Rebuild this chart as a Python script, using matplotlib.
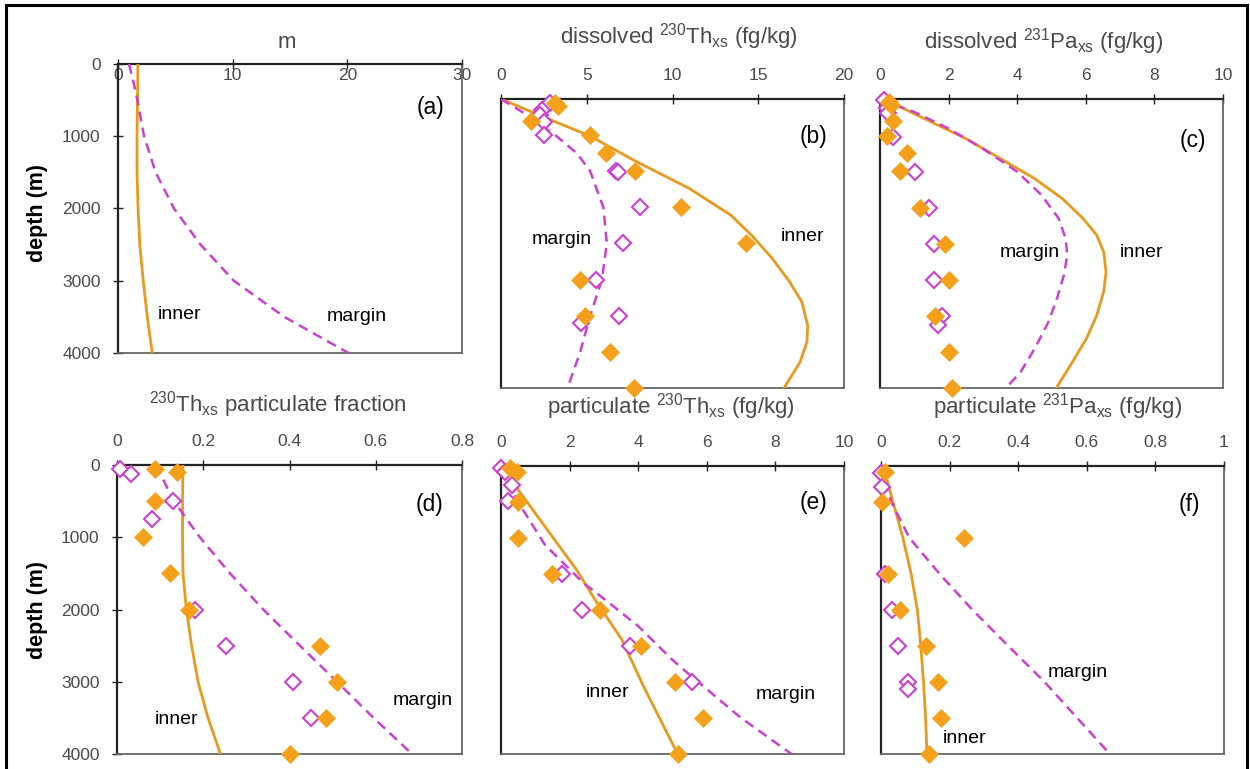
import matplotlib
matplotlib.use('Agg')
import matplotlib.pyplot as plt
from matplotlib.patches import Rectangle
from matplotlib.ticker import FuncFormatter

plt.rcParams['font.family'] = ['Liberation Sans', 'DejaVu Sans']
plt.rcParams['mathtext.fontset'] = 'custom'
plt.rcParams['mathtext.rm'] = 'Liberation Sans'
plt.rcParams['mathtext.it'] = 'Liberation Sans:italic'
plt.rcParams['mathtext.bf'] = 'Liberation Sans:bold'

ORANGE = '#F5A01A'
ORANGE_LINE = '#E99A1E'
MAGENTA = '#CC40D0'
GREY = '#4a4a4a'

# ---- (a) m ----
a_inner_z = [0, 500, 1000, 1500, 2000, 2500, 3000, 3500, 4000]
a_inner = [1.74, 1.7, 1.66, 1.66, 1.75, 1.9, 2.2, 2.55, 2.99]
a_margin_z = [0, 250, 500, 1000, 1500, 2000, 2500, 3000, 3500, 4000]
a_margin = [0.96, 1.35, 1.69, 2.27, 3.28, 4.88, 7.2, 10.1, 14.5, 20.1]

# ---- (b) dissolved 230Th ----
b_inner_z = [500, 750, 1013, 1345, 1738, 1923, 2107, 2385, 2708, 3031, 3308, 3632, 3863, 4140, 4500]
b_inner = [0, 2.5, 5.2, 7.72, 10.98, 12.19, 13.4, 14.61, 15.82, 16.83, 17.54, 17.88, 17.84, 17.44, 16.5]
b_margin_z = [500, 680, 1000, 1250, 1500, 2000, 2500, 3000, 3500, 4000, 4500]
b_margin = [0, 1.24, 3.16, 4.42, 5.2, 5.97, 6.17, 5.88, 5.2, 4.62, 3.88]
b_obs_in_z = [550, 600, 800, 1000, 1250, 1500, 2000, 2500, 3000, 3500, 4000, 4500]
b_obs_in = [3.15, 3.3, 1.75, 5.2, 6.13, 7.8, 10.5, 14.3, 4.6, 4.9, 6.36, 7.76]
b_obs_mar_z = [550, 650, 720, 820, 1000, 1500, 1510, 2000, 2500, 3000, 3500, 3600]
b_obs_mar = [2.85, 2.4, 2.3, 2.5, 2.5, 6.7, 6.85, 8.1, 7.1, 5.55, 6.9, 4.66]

# ---- (c) dissolved 231Pa ----
c_inner_z = [500, 583, 814, 1045, 1322, 1599, 1876, 2154, 2385, 2616, 2893, 3170, 3493, 3816, 4140, 4500]
c_inner = [0, 0.47, 1.48, 2.49, 3.5, 4.5, 5.31, 5.92, 6.32, 6.52, 6.59, 6.52, 6.32, 6.02, 5.61, 5.14]
c_margin_z = [500, 676, 906, 1184, 1507, 1830, 2154, 2431, 2662, 2939, 3262, 3586, 3955, 4278, 4500]
c_margin = [0, 0.98, 1.99, 2.99, 4.0, 4.71, 5.21, 5.41, 5.46, 5.36, 5.16, 4.91, 4.51, 4.1, 3.67]
c_obs_in_z = [540, 580, 805, 1008, 1253, 1498, 2006, 2509, 2999, 3502, 4001, 4500]
c_obs_in = [0.27, 0.32, 0.37, 0.19, 0.78, 0.57, 1.18, 1.89, 2.0, 1.6, 2.0, 2.1]
c_obs_mar_z = [514, 620, 700, 1022, 1516, 2015, 2509, 2999, 3502, 3622]
c_obs_mar = [0.12, 0.2, 0.22, 0.37, 1.03, 1.43, 1.56, 1.56, 1.8, 1.68]

# ---- (d) 230Th particulate fraction ----
d_inner_z = [0, 500, 1000, 1500, 2000, 2500, 3000, 3500, 4000]
d_inner = [0.153, 0.152, 0.152, 0.153, 0.161, 0.173, 0.188, 0.211, 0.24]
d_margin_z = [0, 485, 1000, 1500, 2000, 2500, 3000, 3500, 4000]
d_margin = [0.091, 0.13, 0.192, 0.262, 0.339, 0.424, 0.51, 0.595, 0.684]
d_obs_in_z = [50, 100, 500, 1000, 1500, 2000, 2500, 3000, 3500, 4000]
d_obs_in = [0.0875, 0.138, 0.0875, 0.06, 0.124, 0.167, 0.471, 0.51, 0.484, 0.4]
d_obs_mar_z = [55, 125, 500, 750, 2000, 2500, 3000, 3500]
d_obs_mar = [0.006, 0.033, 0.13, 0.081, 0.18, 0.252, 0.407, 0.45]

# ---- (e) particulate 230Th ----
e_inner_z = [0, 100, 330, 840, 1440, 1855, 2410, 3055, 4000]
e_inner = [0.05, 0.26, 0.5, 1.28, 2.2, 2.74, 3.52, 4.15, 5.15]
e_margin_z = [0, 250, 540, 1094, 1624, 1855, 2224, 2685, 2900, 3500, 4000]
e_margin = [0, 0.2, 0.55, 1.28, 2.4, 3.03, 4.0, 4.98, 5.5, 7.0, 8.47]
e_obs_in_z = [30, 90, 500, 1000, 1500, 2000, 2500, 3000, 3500, 4000]
e_obs_in = [0.26, 0.46, 0.49, 0.49, 1.48, 2.89, 4.07, 5.07, 5.9, 5.15]
e_obs_mar_z = [30, 90, 270, 480, 1500, 2000, 2500, 3000]
e_obs_mar = [0.0, 0.12, 0.31, 0.21, 1.77, 2.37, 3.76, 5.58]

# ---- (f) particulate 231Pa ----
f_inner_z = [0, 100, 500, 1000, 1500, 2000, 2500, 3000, 3500, 4000]
f_inner = [0.0, 0.012, 0.035, 0.064, 0.088, 0.106, 0.116, 0.124, 0.13, 0.134]
f_margin_z = [0, 250, 500, 1000, 1500, 2000, 2500, 3000, 3500, 4000]
f_margin = [0.0, 0.012, 0.03, 0.083, 0.171, 0.267, 0.371, 0.477, 0.572, 0.667]
f_obs_in_z = [80, 500, 1000, 1500, 2000, 2500, 3000, 3500, 4000]
f_obs_in = [0.012, 0.003, 0.243, 0.021, 0.055, 0.13, 0.165, 0.175, 0.14]
f_obs_mar_z = [100, 290, 1500, 2000, 2500, 3000, 3100]
f_obs_mar = [0.0, 0.002, 0.012, 0.031, 0.049, 0.08, 0.08]

W, H = 1250, 769
fig = plt.figure(figsize=(W / 100, H / 100), dpi=100)


def px_axes(left, top, right, bottom):
    return fig.add_axes([left / W, 1 - bottom / H, (right - left) / W, (bottom - top) / H])


def style(ax, xmax, xticks, ylim, ylabels, pad):
    ax.set_xlim(0, xmax)
    ax.set_ylim(*ylim)
    ax.set_xticks(xticks)
    ax.xaxis.set_major_formatter(FuncFormatter(lambda v, p: '%g' % v))
    ax.tick_params(axis='x', top=True, labeltop=True, bottom=False, labelbottom=False,
                   direction='inout', length=7, width=1, color='#222', pad=pad,
                   labelsize=12.5, labelcolor=GREY)
    if ylabels:
        ax.set_yticks([0, 1000, 2000, 3000, 4000])
        ax.tick_params(axis='y', direction='inout', length=7, width=1, color='#222',
                       labelsize=12.5, labelcolor=GREY, pad=9)
    else:
        ax.set_yticks([])
    for s in ['top', 'left']:
        ax.spines[s].set_color('#222')
        ax.spines[s].set_linestyle((0, (1, 1)))
        ax.spines[s].set_linewidth(1.6)
    for s in ['right', 'bottom']:
        ax.spines[s].set_color('#666')
        ax.spines[s].set_linewidth(1.3)


def draw(ax, iz, iv, mz, mv, oiz=None, oiv=None, omz=None, omv=None):
    ax.plot(iv, iz, color=ORANGE_LINE, lw=2.0, zorder=3)
    ax.plot(mv, mz, color=MAGENTA, lw=1.8, dashes=(4, 2.5), zorder=3)
    if omz is not None:
        ax.plot(omv, omz, 'D', ms=8.5, mfc='white', mec=MAGENTA, mew=1.5,
                ls='none', clip_on=False, zorder=4)
    if oiz is not None:
        ax.plot(oiv, oiz, 'D', ms=9.5, mfc=ORANGE, mec=ORANGE, mew=0.5,
                ls='none', clip_on=False, zorder=5)


LAB = 14

# top row
ax_a = px_axes(118, 64, 462, 353)
style(ax_a, 30, [0, 10, 20, 30], (4000, 0), True, -17)
draw(ax_a, a_inner_z, a_inner, a_margin_z, a_margin)
ax_a.text(5.4, 3474, 'inner', fontsize=LAB, ha='center', va='center')
ax_a.text(20.8, 3488, 'margin', fontsize=LAB, ha='center', va='center')

ax_b = px_axes(501, 99, 844, 388)
style(ax_b, 20, [0, 5, 10, 15, 20], (4500, 500), False, 8)
draw(ax_b, b_inner_z, b_inner, b_margin_z, b_margin, b_obs_in_z, b_obs_in, b_obs_mar_z, b_obs_mar)
ax_b.text(3.56, 2438, 'margin', fontsize=LAB, ha='center', va='center')
ax_b.text(17.6, 2410, 'inner', fontsize=LAB, ha='center', va='center')

ax_c = px_axes(880, 99, 1223, 388)
style(ax_c, 10, [0, 2, 4, 6, 8, 10], (4500, 500), False, 8)
draw(ax_c, c_inner_z, c_inner, c_margin_z, c_margin, c_obs_in_z, c_obs_in, c_obs_mar_z, c_obs_mar)
ax_c.text(4.37, 2631, 'margin', fontsize=LAB, ha='center', va='center')
ax_c.text(7.64, 2631, 'inner', fontsize=LAB, ha='center', va='center')

# bottom row
ax_d = px_axes(117, 465, 462, 754)
style(ax_d, 0.8, [0, 0.2, 0.4, 0.6, 0.8], (4000, 0), True, 8)
draw(ax_d, d_inner_z, d_inner, d_margin_z, d_margin, d_obs_in_z, d_obs_in, d_obs_mar_z, d_obs_mar)
ax_d.text(0.71, 3253, 'margin', fontsize=LAB, ha='center', va='center')
ax_d.text(0.139, 3516, 'inner', fontsize=LAB, ha='center', va='center')

ax_e = px_axes(501, 466, 844, 754)
style(ax_e, 10, [0, 2, 4, 6, 8, 10], (4000, 0), False, 8)
draw(ax_e, e_inner_z, e_inner, e_margin_z, e_margin, e_obs_in_z, e_obs_in, e_obs_mar_z, e_obs_mar)
ax_e.text(3.12, 3142, 'inner', fontsize=LAB, ha='center', va='center')
ax_e.text(8.31, 3170, 'margin', fontsize=LAB, ha='center', va='center')

ax_f = px_axes(881, 466, 1224, 754)
style(ax_f, 1, [0, 0.2, 0.4, 0.6, 0.8, 1], (4000, 0), False, 8)
draw(ax_f, f_inner_z, f_inner, f_margin_z, f_margin, f_obs_in_z, f_obs_in, f_obs_mar_z, f_obs_mar)
ax_f.text(0.574, 2865, 'margin', fontsize=LAB, ha='center', va='center')
ax_f.text(0.245, 3779, 'inner', fontsize=LAB, ha='center', va='center')

# panel letters
for ax, lab, fx, fy in [(ax_a, '(a)', 0.907, 0.851), (ax_b, '(b)', 0.91, 0.869),
                        (ax_c, '(c)', 0.913, 0.858), (ax_d, '(d)', 0.907, 0.862),
                        (ax_e, '(e)', 0.91, 0.872), (ax_f, '(f)', 0.898, 0.865)]:
    ax.text(fx, fy, lab, transform=ax.transAxes, fontsize=16.5, ha='center', va='center')

# titles above the axes
titles = [
    (287, 42, 'm'),
    (679, 37, r'dissolved $^{230}$Th$_{\rm xs}$ (fg/kg)'),
    (1044, 42, r'dissolved $^{231}$Pa$_{\rm xs}$ (fg/kg)'),
    (278, 405, r'$^{230}$Th$_{\rm xs}$ particulate fraction'),
    (671, 407, r'particulate $^{230}$Th$_{\rm xs}$ (fg/kg)'),
    (1058, 407, r'particulate $^{231}$Pa$_{\rm xs}$ (fg/kg)'),
]
for x, y, t in titles:
    fig.text(x / W, 1 - y / H, t, fontsize=16, color=GREY, ha='center', va='center')

for y in [213, 610]:
    fig.text(38 / W, 1 - y / H, 'depth (m)', fontsize=15.5, fontweight='bold',
             rotation=90, ha='center', va='center')

# outer frame
fig.patches.append(Rectangle((6 / W, -0.02), 1241 / W, 1 - 5 / H + 0.02,
                             transform=fig.transFigure, fill=False,
                             edgecolor='black', linewidth=2.2))

fig.savefig('out.png', dpi=100)
